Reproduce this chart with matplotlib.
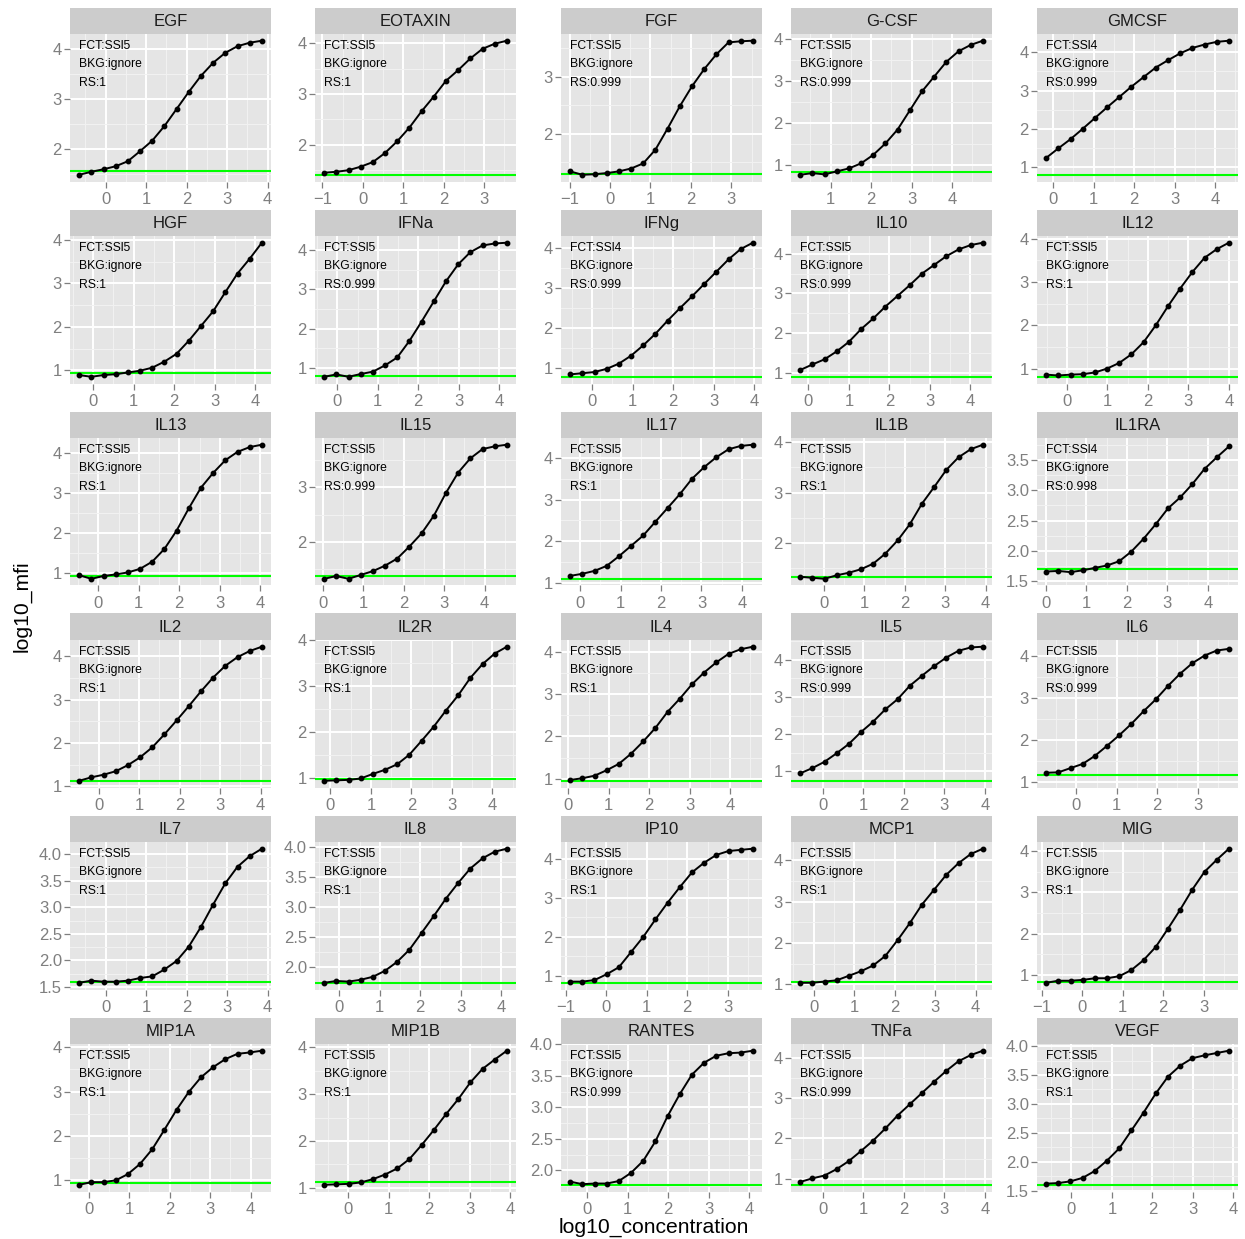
import matplotlib
matplotlib.use("Agg")
import matplotlib.pyplot as plt
import numpy as np

plt.rcParams['font.family'] = ['Liberation Sans', 'DejaVu Sans']

# standard curves, one panel per analyte
analytes = ['EGF', 'EOTAXIN', 'FGF', 'G-CSF', 'GMCSF',
            'HGF', 'IFNa', 'IFNg', 'IL10', 'IL12',
            'IL13', 'IL15', 'IL17', 'IL1B', 'IL1RA',
            'IL2', 'IL2R', 'IL4', 'IL5', 'IL6',
            'IL7', 'IL8', 'IP10', 'MCP1', 'MIG',
            'MIP1A', 'MIP1B', 'RANTES', 'TNFa', 'VEGF']
fct = ['SSl5', 'SSl5', 'SSl5', 'SSl5', 'SSl4',
       'SSl5', 'SSl5', 'SSl4', 'SSl5', 'SSl5',
       'SSl5', 'SSl5', 'SSl5', 'SSl5', 'SSl4',
       'SSl5', 'SSl5', 'SSl5', 'SSl5', 'SSl5',
       'SSl5', 'SSl5', 'SSl5', 'SSl5', 'SSl5',
       'SSl5', 'SSl5', 'SSl5', 'SSl5', 'SSl5']
rsq = ['1', '1', '0.999', '0.999', '0.999',
       '1', '0.999', '0.999', '0.999', '1',
       '1', '0.999', '1', '1', '0.998',
       '1', '1', '1', '0.999', '0.999',
       '1', '1', '1', '1', '1',
       '1', '1', '0.999', '0.999', '1']

# log10 of the top standard, and the 2-fold dilution series below it
top_conc = [3.86, 3.56, 3.53, 4.76, 4.34,
            4.17, 4.19, 3.97, 4.31, 4.00,
            4.04, 4.55, 4.27, 3.93, 4.52,
            4.03, 4.36, 4.56, 3.95, 3.77,
            3.86, 4.14, 3.62, 4.18, 3.62,
            4.28, 3.92, 4.09, 3.95, 3.89]
log_dilution = [4.515, 4.214, 3.913, 3.612, 3.311, 3.010, 2.709, 2.408,
                2.107, 1.806, 1.505, 1.204, 0.903, 0.602, 0.301, 0.0]

# background level (log10 mfi)
bkg = [1.56, 1.41, 1.29, 0.84, 0.80,
       0.94, 0.80, 0.77, 0.90, 0.81,
       0.91, 1.39, 1.10, 1.33, 1.70,
       1.13, 0.98, 0.95, 0.75, 1.16,
       1.60, 1.74, 0.82, 1.07, 0.83,
       0.94, 1.12, 1.77, 0.85, 1.60]

# y tick spacing per panel
ystep = [1, 1, 1, 1, 1,
         1, 1, 1, 1, 1,
         1, 1, 1, 1, 0.5,
         1, 1, 1, 1, 1,
         0.5, 0.5, 1, 1, 1,
         1, 1, 0.5, 1, 0.5]

# log10 mfi, lowest to highest concentration
mfi = [
    [1.49, 1.55, 1.60, 1.66, 1.76, 1.96, 2.17, 2.46, 2.80, 3.14, 3.46, 3.72, 3.92, 4.05, 4.12, 4.16],
    [1.45, 1.47, 1.50, 1.57, 1.66, 1.84, 2.07, 2.34, 2.66, 2.95, 3.26, 3.47, 3.70, 3.89, 3.99, 4.05],
    [1.34, 1.28, 1.29, 1.31, 1.34, 1.39, 1.48, 1.72, 2.09, 2.48, 2.83, 3.13, 3.39, 3.60, 3.62, 3.63],
    [0.78, 0.82, 0.79, 0.86, 0.93, 1.05, 1.25, 1.52, 1.85, 2.30, 2.75, 3.10, 3.45, 3.70, 3.85, 3.95],
    [1.24, 1.49, 1.73, 2.00, 2.28, 2.56, 2.83, 3.10, 3.35, 3.60, 3.79, 3.97, 4.11, 4.20, 4.27, 4.30],
    [0.89, 0.85, 0.89, 0.91, 0.95, 0.99, 1.06, 1.20, 1.38, 1.68, 2.02, 2.36, 2.80, 3.23, 3.57, 3.94],
    [0.78, 0.84, 0.78, 0.85, 0.91, 1.07, 1.27, 1.69, 2.18, 2.69, 3.20, 3.63, 3.94, 4.11, 4.16, 4.18],
    [0.83, 0.86, 0.89, 0.97, 1.10, 1.30, 1.56, 1.85, 2.18, 2.49, 2.79, 3.10, 3.41, 3.72, 3.98, 4.14],
    [1.07, 1.21, 1.34, 1.54, 1.78, 2.10, 2.37, 2.67, 2.94, 3.21, 3.50, 3.72, 3.94, 4.11, 4.22, 4.28],
    [0.86, 0.84, 0.86, 0.87, 0.91, 1.00, 1.13, 1.33, 1.61, 2.00, 2.44, 2.85, 3.23, 3.56, 3.76, 3.91],
    [0.94, 0.85, 0.92, 0.96, 1.01, 1.10, 1.28, 1.60, 2.06, 2.62, 3.14, 3.51, 3.83, 4.04, 4.16, 4.22],
    [1.33, 1.38, 1.33, 1.40, 1.47, 1.57, 1.70, 1.92, 2.16, 2.48, 2.90, 3.27, 3.53, 3.70, 3.75, 3.78],
    [1.17, 1.22, 1.29, 1.41, 1.64, 1.89, 2.14, 2.47, 2.80, 3.13, 3.50, 3.78, 4.02, 4.21, 4.29, 4.32],
    [1.33, 1.31, 1.29, 1.36, 1.41, 1.48, 1.59, 1.79, 2.05, 2.37, 2.78, 3.11, 3.45, 3.70, 3.86, 3.95],
    [1.66, 1.67, 1.65, 1.68, 1.72, 1.76, 1.83, 1.99, 2.20, 2.44, 2.70, 2.88, 3.10, 3.35, 3.54, 3.72],
    [1.13, 1.21, 1.27, 1.35, 1.49, 1.67, 1.90, 2.20, 2.52, 2.85, 3.19, 3.51, 3.78, 3.98, 4.12, 4.22],
    [0.94, 0.95, 0.96, 0.99, 1.09, 1.18, 1.30, 1.51, 1.81, 2.12, 2.47, 2.80, 3.18, 3.48, 3.71, 3.86],
    [0.97, 1.01, 1.07, 1.20, 1.35, 1.59, 1.88, 2.20, 2.58, 2.89, 3.23, 3.51, 3.75, 3.95, 4.06, 4.12],
    [0.95, 1.09, 1.26, 1.49, 1.74, 2.06, 2.34, 2.67, 2.94, 3.30, 3.57, 3.83, 4.06, 4.24, 4.33, 4.35],
    [1.22, 1.23, 1.33, 1.43, 1.62, 1.86, 2.11, 2.38, 2.68, 2.96, 3.28, 3.57, 3.82, 4.00, 4.12, 4.16],
    [1.58, 1.62, 1.60, 1.60, 1.62, 1.67, 1.70, 1.83, 1.99, 2.26, 2.63, 3.05, 3.45, 3.76, 3.96, 4.10],
    [1.74, 1.77, 1.76, 1.79, 1.84, 1.94, 2.09, 2.29, 2.57, 2.85, 3.14, 3.40, 3.64, 3.81, 3.92, 3.97],
    [0.85, 0.85, 0.89, 1.04, 1.22, 1.61, 2.00, 2.45, 2.88, 3.28, 3.66, 3.91, 4.11, 4.21, 4.24, 4.27],
    [1.04, 1.04, 1.07, 1.10, 1.21, 1.32, 1.46, 1.69, 2.07, 2.48, 2.93, 3.29, 3.65, 3.93, 4.15, 4.28],
    [0.81, 0.86, 0.86, 0.88, 0.92, 0.92, 0.97, 1.12, 1.36, 1.68, 2.12, 2.58, 3.07, 3.50, 3.79, 4.06],
    [0.90, 0.96, 0.96, 1.00, 1.14, 1.37, 1.70, 2.14, 2.59, 2.99, 3.32, 3.55, 3.73, 3.85, 3.88, 3.92],
    [1.06, 1.07, 1.08, 1.11, 1.18, 1.28, 1.41, 1.61, 1.91, 2.23, 2.57, 2.89, 3.25, 3.54, 3.74, 3.93],
    [1.82, 1.78, 1.79, 1.79, 1.83, 1.96, 2.15, 2.46, 2.86, 3.21, 3.52, 3.71, 3.82, 3.86, 3.87, 3.90],
    [0.92, 1.01, 1.08, 1.24, 1.44, 1.69, 1.95, 2.25, 2.57, 2.85, 3.13, 3.41, 3.68, 3.92, 4.07, 4.18],
    [1.62, 1.63, 1.66, 1.72, 1.84, 2.02, 2.23, 2.54, 2.85, 3.18, 3.47, 3.66, 3.79, 3.84, 3.88, 3.92],
]

# panels whose replicate wells spread wider than the mean readings
ylim_override = {'IL6': (0.87, 4.37), 'IL1RA': (1.43, 3.86)}

W, H = 1245, 1239
fig = plt.figure(figsize=(W / 100, H / 100), dpi=100)

col_left = [70, 315, 561, 791, 1037]
panel_w, strip_h, panel_h = 201, 26.5, 147.5
grey50 = '#7F7F7F'


def px_axes(left, top, w, h):
    return fig.add_axes([left / W, 1 - (top + h) / H, w / W, h / H])


def expand(lo, hi):
    pad = (hi - lo) * 0.05
    return lo - pad, hi + pad


def breaks(lo, hi, step):
    major = np.arange(np.ceil(lo / step) * step, hi + 1e-9, step)
    minor = np.concatenate([[major[0] - step / 2], major + step / 2])
    minor = minor[(minor > lo) & (minor < hi)]
    return major, minor


for i, name in enumerate(analytes):
    r, c = divmod(i, 5)
    left = col_left[c]
    top = 7.5 + 202 * r

    strip = px_axes(left, top, panel_w, strip_h)
    strip.set_facecolor('#CCCCCC')
    strip.set_xticks([])
    strip.set_yticks([])
    for s in strip.spines.values():
        s.set_visible(False)
    strip.text(0.5, 0.48, name, ha='center', va='center', fontsize=12,
               color='#1A1A1A', transform=strip.transAxes)

    ax = px_axes(left, top + strip_h, panel_w, panel_h)
    ax.set_facecolor('#E5E5E5')
    for s in ax.spines.values():
        s.set_visible(False)

    x = np.array(top_conc[i]) - np.array(log_dilution)
    y = np.array(mfi[i])

    xlo, xhi = expand(x.min(), x.max())
    ylo, yhi = expand(min(y.min(), bkg[i]), max(y.max(), bkg[i]))
    if name in ylim_override:
        ylo, yhi = ylim_override[name]
    ax.set_xlim(xlo, xhi)
    ax.set_ylim(ylo, yhi)

    xmaj, xmin = breaks(xlo, xhi, 1)
    ymaj, ymin = breaks(ylo, yhi, ystep[i])
    ax.set_xticks(xmaj)
    ax.set_xticks(xmin, minor=True)
    ax.set_yticks(ymaj)
    ax.set_yticks(ymin, minor=True)
    ax.set_xticklabels(['%d' % v if v >= 0 else '\u2212%d' % -v for v in xmaj])
    fmt = '%.1f' if ystep[i] < 1 else '%d'
    ax.set_yticklabels([fmt % v for v in ymaj])

    ax.set_axisbelow(True)
    ax.grid(which='major', color='white', lw=1.4)
    ax.grid(which='minor', color='#F2F2F2', lw=0.7)
    ax.tick_params(which='minor', length=0)
    ax.tick_params(which='major', length=4.3, width=0.9, color=grey50,
                   labelcolor=grey50, labelsize=12)
    ax.tick_params(axis='x', pad=3.0)
    ax.tick_params(axis='y', pad=1.5)

    ax.axhline(bkg[i], color='#00FF00', lw=1.5, zorder=2)
    ax.plot(x, y, '-', color='black', lw=1.4, zorder=3)
    ax.plot(x, y, 'o', color='black', ms=3.2, zorder=4)

    for k, line in enumerate(['FCT:' + fct[i], 'BKG:ignore', 'RS:' + rsq[i]]):
        ax.text(0.047, 0.918 - k * 0.124, line, transform=ax.transAxes,
                fontsize=8.7, va='center', ha='left', color='black')

fig.text(654 / W, 1 - 1227 / H, 'log10_concentration', ha='center', va='center',
         fontsize=15.2)
fig.text(22 / W, 1 - 606 / H, 'log10_mfi', ha='center', va='center',
         rotation=90, fontsize=15.2)

fig.savefig('out.png', dpi=100)
